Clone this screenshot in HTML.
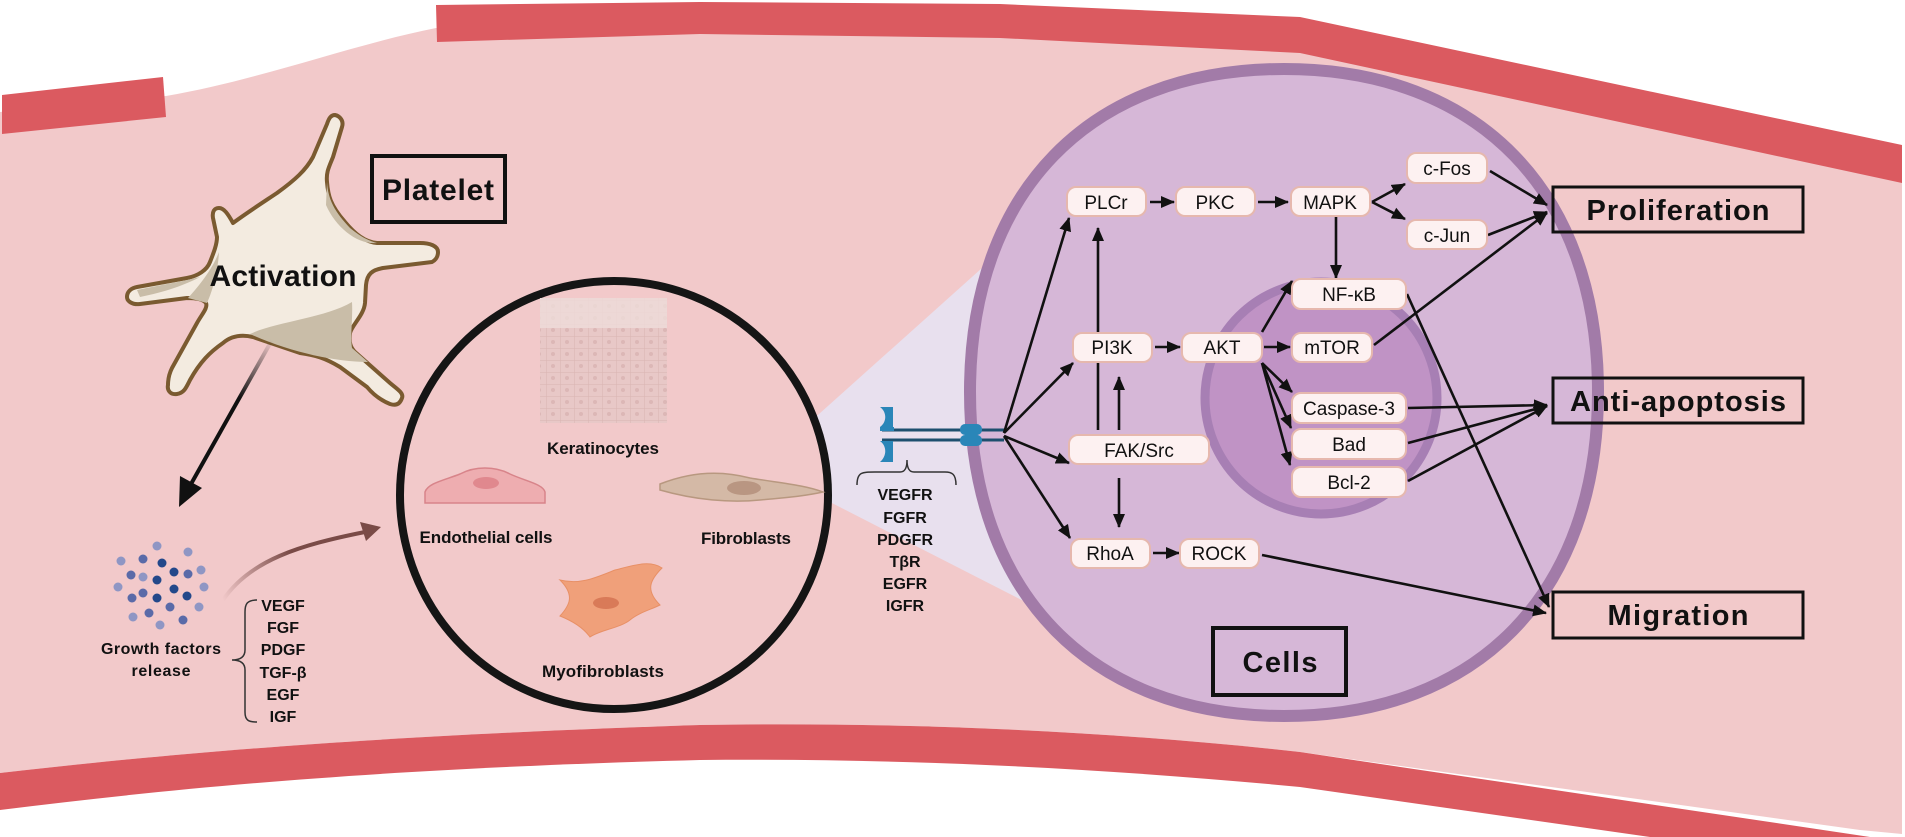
<!DOCTYPE html>
<html><head><meta charset="utf-8"><style>
html,body{margin:0;padding:0;background:#fff;}
svg{display:block;}
text{font-family:"Liberation Sans",sans-serif;}
.b{font-weight:bold;fill:#111;}
.n{font-size:19px;fill:#111;text-anchor:middle;}
</style></head><body>
<svg width="1905" height="837" viewBox="0 0 1905 837" xmlns="http://www.w3.org/2000/svg">
<defs>
<marker id="ah" markerUnits="userSpaceOnUse" markerWidth="14" markerHeight="12" refX="13" refY="6" orient="auto">
<path d="M0,0 L14,6 L0,12 Z" fill="#111"/></marker>
<linearGradient id="g1" x1="272" y1="340" x2="190" y2="485" gradientUnits="userSpaceOnUse">
<stop offset="0" stop-color="#111" stop-opacity="0"/><stop offset="0.4" stop-color="#111"/></linearGradient>
<linearGradient id="g2" x1="223" y1="600" x2="370" y2="530" gradientUnits="userSpaceOnUse">
<stop offset="0" stop-color="#7a4b47" stop-opacity="0"/><stop offset="0.5" stop-color="#7a4b47"/></linearGradient>
<pattern id="kp" width="14" height="12" patternUnits="userSpaceOnUse">
<rect width="14" height="12" fill="#e6c8c6"/><path d="M0,0 H14 M0,0 V12" stroke="#d4b0ae" stroke-width="1"/><circle cx="7" cy="6" r="2" fill="#d8b4b2"/></pattern>
</defs>

<!-- tissue -->
<path d="M0,112 L166,96 C260,80 350,45 436,28 L700,20 L1000,24 L1300,38 L1902,165 L1902,834 L1860,830 L1300,752 C1100,730 900,722 700,725 C400,735 200,750 0,773 Z" fill="#f2c9ca"/>
<path d="M2,95 L163,77 L166,117 L2,134 Z" fill="#db5a60"/>
<path d="M436,5 L700,2 L1000,4 L1300,17 L1902,145 L1902,183 L1300,53 L1000,38 L700,34 L437,42 Z" fill="#db5a60"/>
<path d="M0,773 C200,750 400,735 700,725 C900,722 1100,730 1300,752 L1870,837 L0,837 Z" fill="#db5a60"/>
<path d="M0,810 C200,785 400,768 700,760 C900,758 1100,768 1300,787 L1650,837 L0,837 Z" fill="#fff"/>

<!-- wedge -->
<path d="M790,440 L1030,225 L1150,400 L1100,640 L826,500 Z" fill="#e8e0ee"/>

<!-- black circle -->
<circle cx="614" cy="495" r="214" fill="#f2c9ca" stroke="#151515" stroke-width="8"/>
<rect x="540" y="298" width="127" height="125" fill="url(#kp)" opacity="0.85"/>
<rect x="540" y="298" width="127" height="30" fill="#eddcda" opacity="0.8"/>
<text x="603" y="454" class="b" font-size="17" text-anchor="middle" textLength="112">Keratinocytes</text>
<path d="M425,503 L425,492 C428,483 445,480 460,474 C475,466 495,466 510,474 C525,481 543,484 545,492 L545,503 Z" fill="#eeadb0" stroke="#d8848a" stroke-width="1.5"/>
<ellipse cx="486" cy="483" rx="13" ry="6" fill="#e0888e"/>
<text x="486" y="543" class="b" font-size="17" text-anchor="middle" textLength="133">Endothelial cells</text>
<path d="M660,484 C690,472 720,470 750,478 C780,483 805,485 823,492 C800,497 780,498 760,500 C730,503 695,500 660,490 Z" fill="#d4b9a6" stroke="#b89880" stroke-width="1.5"/>
<ellipse cx="744" cy="488" rx="17" ry="7" fill="#b99682"/>
<text x="746" y="544" class="b" font-size="17" text-anchor="middle" textLength="90">Fibroblasts</text>
<path d="M560,580 C580,585 595,578 615,570 C635,565 650,560 662,568 C650,580 645,590 660,605 C650,610 640,612 630,620 C620,628 600,630 590,637 C585,630 575,622 560,616 C570,605 575,595 560,580 Z" fill="#f0a07a" stroke="#e89066" stroke-width="1"/>
<ellipse cx="606" cy="603" rx="13" ry="6" fill="#d97a58"/>
<text x="603" y="677" class="b" font-size="17" text-anchor="middle" textLength="122">Myofibroblasts</text>

<!-- platelet -->
<path d="M335,115 C340,116 344,121 342,127 L333,157 C329,167 326,172 327,182 C328,195 330,205 345,222 C355,234 365,242 377,243 L420,243 C430,243 438,246 438,252 C438,258 434,261 432,262 L383,268 C372,270 367,274 366,285 L365,303 C364,315 352,325 350,333 C349,342 350,347 355,352 L390,383 C397,389 404,393 402,398 C400,404 396,406 390,404 C380,400 372,393 367,387 L340,367 C325,358 315,355 300,353 L253,337 C240,334 230,337 223,343 C210,352 200,362 190,380 C186,388 184,393 177,394 C170,395 167,390 168,385 C168,378 170,372 172,368 L197,323 C202,314 208,308 206,303 C203,299 195,298 187,298 L140,304 C132,305 127,301 127,297 C127,291 132,288 137,287 L187,278 C198,276 207,270 210,262 C214,252 217,244 217,237 L213,218 C212,212 214,208 219,208 C224,208 228,214 233,223 C248,212 262,203 277,193 C295,180 306,170 313,157 L327,124 C329,118 331,115 335,115 Z" fill="#f3ebe0" stroke="#7a5a30" stroke-width="4" stroke-linejoin="round"/>
<path d="M250,334 C275,322 325,318 352,302 C353,318 350,335 352,348 L368,362 C335,362 290,352 250,334 Z" fill="#c9bda8"/>
<path d="M327,182 C328,200 335,212 350,228 C362,238 370,241 377,243 C358,245 336,228 326,205 Z" fill="#c9bda8"/>
<path d="M207,303 C213,290 218,270 219,252 C213,268 200,285 188,298 Z" fill="#c9bda8"/>
<path d="M137,290 C160,285 180,282 200,277 C185,285 165,292 140,297 Z" fill="#c9bda8"/>
<text x="283" y="286" class="b" font-size="30" text-anchor="middle" textLength="147">Activation</text>
<rect x="372" y="156" width="133" height="66" fill="none" stroke="#111" stroke-width="4"/>
<text x="438" y="200" class="b" font-size="30" text-anchor="middle" textLength="112">Platelet</text>

<!-- platelet arrow -->
<line x1="272" y1="340" x2="191" y2="484" stroke="url(#g1)" stroke-width="4"/>
<path d="M179,507 L202,488 L180,476 Z" fill="#111"/>

<!-- growth factors -->
<g fill="#8f96c4">
<circle cx="157" cy="546" r="4.5"/><circle cx="188" cy="552" r="4.5"/><circle cx="121" cy="561" r="4.5"/><circle cx="201" cy="570" r="4.5"/><circle cx="143" cy="577" r="4.5"/><circle cx="118" cy="587" r="4.5"/><circle cx="204" cy="587" r="4.5"/><circle cx="199" cy="607" r="4.5"/><circle cx="133" cy="617" r="4.5"/><circle cx="160" cy="625" r="4.5"/>
</g>
<g fill="#5a6aa8">
<circle cx="143" cy="559" r="4.5"/><circle cx="131" cy="575" r="4.5"/><circle cx="188" cy="574" r="4.5"/><circle cx="143" cy="593" r="4.5"/><circle cx="132" cy="598" r="4.5"/><circle cx="170" cy="607" r="4.5"/><circle cx="149" cy="613" r="4.5"/><circle cx="183" cy="620" r="4.5"/>
</g>
<g fill="#23488a">
<circle cx="162" cy="563" r="4.5"/><circle cx="174" cy="572" r="4.5"/><circle cx="157" cy="580" r="4.5"/><circle cx="174" cy="589" r="4.5"/><circle cx="187" cy="596" r="4.5"/><circle cx="157" cy="598" r="4.5"/>
</g>
<text x="161" y="654" class="b" font-size="16" text-anchor="middle" textLength="120">Growth factors</text>
<text x="161" y="676" class="b" font-size="16" text-anchor="middle" textLength="59">release</text>
<path d="M257,600 C247,600 245,604 245,612 L245,650 C245,657 240,660 232,660 C240,660 245,663 245,670 L245,712 C245,720 248,722 257,722" fill="none" stroke="#333" stroke-width="1.5"/>
<g class="b" font-size="16" text-anchor="middle">
<text x="283" y="611">VEGF</text><text x="283" y="633">FGF</text><text x="283" y="655">PDGF</text><text x="283" y="678">TGF-β</text><text x="283" y="700">EGF</text><text x="283" y="722">IGF</text>
</g>
<path d="M223,600 C250,560 300,545 365,532" fill="none" stroke="url(#g2)" stroke-width="4"/>
<path d="M381,527 L360,522 L366,541 Z" fill="#7a4b47"/>

<!-- cell -->
<path d="M970,392 C970,192 1089,69 1284,69 C1479,69 1598,192 1598,392 C1598,592 1479,716 1284,716 C1089,716 970,592 970,392 Z" fill="#d6b7d7" stroke="#a27ba8" stroke-width="12"/>
<circle cx="1321" cy="398" r="116" fill="#c093c5" stroke="#a77fb4" stroke-width="9"/>

<!-- receptor -->
<g>
<line x1="882" y1="430" x2="1004" y2="430" stroke="#1d4f6e" stroke-width="3"/>
<line x1="882" y1="440" x2="1004" y2="440" stroke="#1d4f6e" stroke-width="3"/>
<path d="M880,407 L893,407 L893,427 L880,427 C887,422 887,412 880,407 Z" fill="#2a86b8"/>
<path d="M880,441 L893,441 L893,462 L880,462 C887,456 887,446 880,441 Z" fill="#2a86b8"/>
<rect x="880" y="427" width="14" height="4" fill="#2a86b8"/>
<rect x="960" y="424" width="22" height="11" rx="5" fill="#2a86b8"/>
<rect x="960" y="435" width="22" height="11" rx="5" fill="#2a86b8"/>
</g>
<path d="M857,485 C857,472 862,472 875,472 L900,472 C905,472 907,468 907,460 C907,468 909,472 914,472 L945,472 C952,472 956,474 956,485" fill="none" stroke="#333" stroke-width="1.5"/>
<g class="b" font-size="16" text-anchor="middle">
<text x="905" y="500">VEGFR</text><text x="905" y="523">FGFR</text><text x="905" y="545">PDGFR</text><text x="905" y="567">TβR</text><text x="905" y="589">EGFR</text><text x="905" y="611">IGFR</text>
</g>

<!-- arrows -->
<g stroke="#111" stroke-width="2.6" fill="none" marker-end="url(#ah)">
<line x1="1004" y1="433" x2="1069" y2="218"/>
<line x1="1004" y1="433" x2="1073" y2="363"/>
<line x1="1004" y1="436" x2="1069" y2="463"/>
<line x1="1004" y1="436" x2="1070" y2="538"/>
<line x1="1098" y1="430" x2="1098" y2="228"/>
<line x1="1119" y1="430" x2="1119" y2="377"/>
<line x1="1119" y1="478" x2="1119" y2="527"/>
<line x1="1150" y1="202" x2="1174" y2="202"/>
<line x1="1258" y1="202" x2="1288" y2="202"/>
<line x1="1155" y1="347" x2="1180" y2="347"/>
<line x1="1153" y1="553" x2="1179" y2="553"/>
<line x1="1336" y1="217" x2="1336" y2="278"/>
<line x1="1372" y1="202" x2="1405" y2="184"/>
<line x1="1372" y1="202" x2="1405" y2="219"/>
<line x1="1262" y1="332" x2="1292" y2="281"/>
<line x1="1264" y1="347" x2="1290" y2="347"/>
<line x1="1262" y1="363" x2="1292" y2="392"/>
<line x1="1262" y1="363" x2="1291" y2="428"/>
<line x1="1262" y1="363" x2="1290" y2="465"/>
<line x1="1490" y1="171" x2="1547" y2="205"/>
<line x1="1488" y1="235" x2="1547" y2="212"/>
<line x1="1374" y1="345" x2="1547" y2="213"/>
<line x1="1408" y1="408" x2="1547" y2="405"/>
<line x1="1408" y1="443" x2="1547" y2="406"/>
<line x1="1408" y1="481" x2="1547" y2="406"/>
<line x1="1407" y1="294" x2="1549" y2="607"/>
<line x1="1262" y1="555" x2="1546" y2="613"/>
</g>

<!-- nodes -->
<g fill="#fdf1f1" stroke="#e6b8ae" stroke-width="2">
<rect x="1067" y="187" width="79" height="29" rx="9"/>
<rect x="1176" y="187" width="79" height="29" rx="9"/>
<rect x="1291" y="187" width="79" height="29" rx="9"/>
<rect x="1407" y="153" width="80" height="30" rx="9"/>
<rect x="1407" y="220" width="80" height="29" rx="9"/>
<rect x="1073" y="333" width="79" height="29" rx="9"/>
<rect x="1182" y="333" width="80" height="29" rx="9"/>
<rect x="1292" y="279" width="114" height="30" rx="9"/>
<rect x="1292" y="333" width="80" height="29" rx="9"/>
<rect x="1292" y="393" width="114" height="30" rx="9"/>
<rect x="1292" y="429" width="114" height="30" rx="9"/>
<rect x="1292" y="467" width="114" height="30" rx="9"/>
<rect x="1069" y="435" width="140" height="29" rx="9"/>
<rect x="1071" y="539" width="79" height="29" rx="9"/>
<rect x="1180" y="539" width="79" height="29" rx="9"/>
</g>
<g class="n">
<text x="1106" y="209">PLCr</text>
<text x="1215" y="209">PKC</text>
<text x="1330" y="209">MAPK</text>
<text x="1447" y="175">c-Fos</text>
<text x="1447" y="242">c-Jun</text>
<text x="1112" y="354">PI3K</text>
<text x="1222" y="354">AKT</text>
<text x="1349" y="301">NF-κB</text>
<text x="1332" y="354">mTOR</text>
<text x="1349" y="415">Caspase-3</text>
<text x="1349" y="451">Bad</text>
<text x="1349" y="489">Bcl-2</text>
<text x="1139" y="457">FAK/Src</text>
<text x="1110" y="560">RhoA</text>
<text x="1219" y="560">ROCK</text>
</g>

<!-- outcome boxes -->
<g fill="none" stroke="#111" stroke-width="3">
<rect x="1553" y="187" width="250" height="45"/>
<rect x="1553" y="378" width="250" height="45"/>
<rect x="1553" y="592" width="250" height="46"/>
</g>
<rect x="1213" y="628" width="133" height="67" fill="none" stroke="#111" stroke-width="4"/>
<g class="b" font-size="29" text-anchor="middle">
<text x="1678" y="220" textLength="183">Proliferation</text>
<text x="1678" y="411" textLength="216">Anti-apoptosis</text>
<text x="1678" y="625" textLength="141">Migration</text>
<text x="1280" y="672" textLength="75">Cells</text>
</g>
</svg>
</body></html>
